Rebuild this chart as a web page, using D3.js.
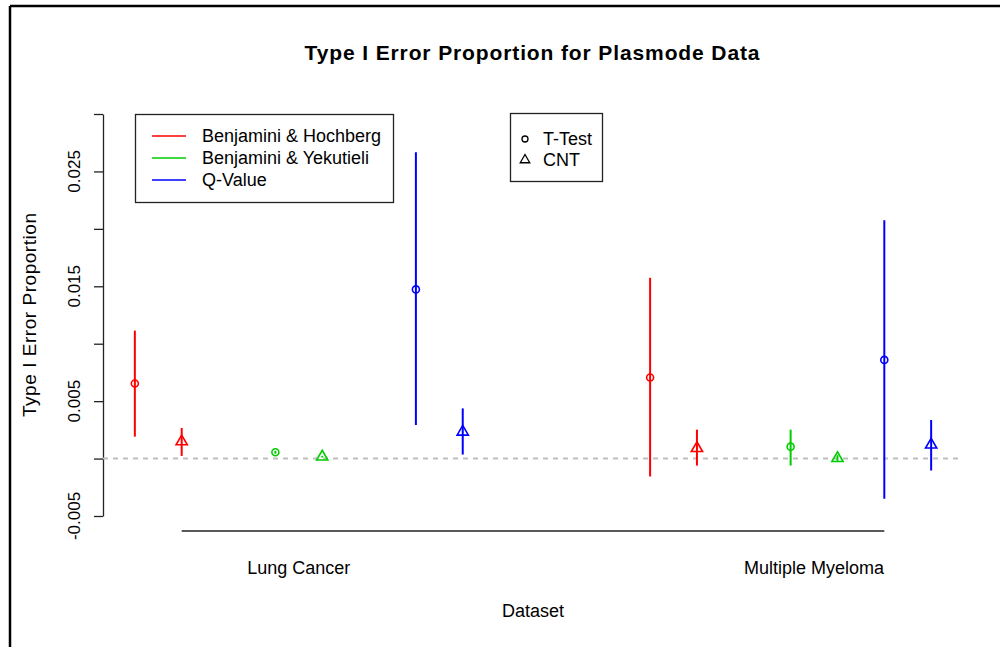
<!DOCTYPE html>
<html>
<head>
<meta charset="utf-8">
<script src="https://cdn.jsdelivr.net/npm/d3@7"></script>
<style>
  body { margin: 0; background: #fff; }
  text { font-family: "Liberation Sans", Arial, Helvetica, sans-serif; fill: #000; }
</style>
</head>
<body>
<svg id="chart" width="1000" height="647"></svg>
<script>
// ---- data ----
const datasets = ["Lung Cancer", "Multiple Myeloma"];
const methods = ["Benjamini & Hochberg", "Benjamini & Yekutieli", "Q-Value"];
const tests = ["T-Test", "CNT"];
const methodColors = ["#ff0000", "#00cd00", "#0000ff"];

// x slot of each estimate, ordered BH T-Test, BH CNT, BY T-Test, BY CNT, Q T-Test, Q CNT
const lungSlots    = [0, 1, 3, 4, 6, 7];
const myelomaSlots = [11, 12, 14, 15, 16, 17];

// estimated Type I error proportion with lower / upper interval limits
const lungEst    = [0.00654, 0.00148, 0.00055, 0.00016, 0.01473, 0.00232];
const lungLow    = [0.00191, 0.00023, 0.00042, 0.00010, 0.00292, 0.00035];
const lungHigh   = [0.01114, 0.00266, 0.00068, 0.00024, 0.02668, 0.00437];
const myelomaEst  = [0.00706, 0.00090, 0.00104, 0.00003, 0.00859, 0.00120];
const myelomaLow  = [-0.00156, -0.00061, -0.00061, -0.00020, -0.00350, -0.00104];
const myelomaHigh = [0.01574, 0.00252, 0.00252, 0.00030, 0.02075, 0.00336];

// axis settings
const yTicks = [-0.005, 0, 0.005, 0.01, 0.015, 0.02, 0.025, 0.03];
const yTickLabels = ["-0.005", "", "0.005", "", "0.015", "", "0.025", ""];
const datasetLabelSlots = [3.5, 14.5];
const datasetAxisSlots = [1, 16];

const titleText = "Type I Error Proportion for Plasmode Data";
const xTitle = "Dataset";
const yTitle = "Type I Error Proportion";

// ---- assemble rows ----
const rows = [];
[[lungSlots, lungEst, lungLow, lungHigh], [myelomaSlots, myelomaEst, myelomaLow, myelomaHigh]]
  .forEach(([slots, est, lo, hi], d) => {
    slots.forEach((s, i) => rows.push({
      dataset: datasets[d], method: Math.floor(i / 2), test: i % 2,
      slot: s, est: est[i], lo: lo[i], hi: hi[i]
    }));
  });

// ---- chart ----
const svg = d3.select("#chart");
const x = d3.scaleLinear().domain([-0.68, 17.68]).range([103, 963]);
const y = d3.scaleLinear().domain([-0.005, 0.03]).range([516, 114]);

svg.append("rect").attr("width", 1000).attr("height", 647).attr("fill", "#fff");

// frame edges
svg.append("line").attr("x1", 10).attr("x2", 1000).attr("y1", 6).attr("y2", 6)
  .attr("stroke", "#000").attr("stroke-width", 2.5);
svg.append("line").attr("x1", 10).attr("x2", 10).attr("y1", 6).attr("y2", 647)
  .attr("stroke", "#000").attr("stroke-width", 2.5);

// title
svg.append("text").attr("x", 532).attr("y", 60).attr("text-anchor", "middle")
  .attr("font-weight", "bold").attr("font-size", 21)
  .attr("textLength", 455).attr("lengthAdjust", "spacing").text(titleText);

// y axis
const yAxis = d3.axisLeft(y).tickValues(yTicks).tickSize(9).tickSizeOuter(0)
  .tickFormat((d, i) => yTickLabels[i]);
const gy = svg.append("g").attr("transform", "translate(103,0)").call(yAxis);
gy.select(".domain").attr("stroke", "#222").attr("stroke-width", 1.3);
gy.selectAll(".tick line").attr("stroke", "#222").attr("stroke-width", 1.3);
gy.selectAll(".tick text").remove();
svg.append("g").selectAll("text").data(yTicks).join("text")
  .attr("transform", d => `translate(80,${y(d)}) rotate(-90)`)
  .attr("text-anchor", "middle").attr("font-size", 17)
  .text((d, i) => yTickLabels[i]);

svg.append("text").attr("transform", `translate(36,${(y(0.03) + y(-0.005)) / 2 + 0}) rotate(-90)`)
  .attr("text-anchor", "middle").attr("font-size", 19)
  .attr("textLength", 204).attr("lengthAdjust", "spacing").text(yTitle);

// reference line at zero
svg.append("line").attr("x1", x.range()[0]).attr("x2", x.range()[1])
  .attr("y1", y(0)).attr("y2", y(0))
  .attr("stroke", "#bebebe").attr("stroke-width", 2).attr("stroke-dasharray", "5,5");

// x axis
svg.append("line").attr("x1", x(datasetAxisSlots[0])).attr("x2", x(datasetAxisSlots[1]))
  .attr("y1", 531).attr("y2", 531).attr("stroke", "#222").attr("stroke-width", 1.5);
svg.append("g").selectAll("text").data(datasets).join("text")
  .attr("x", (d, i) => x(datasetLabelSlots[i])).attr("y", 574)
  .attr("text-anchor", "middle").attr("font-size", 18).text(d => d);
svg.append("text").attr("x", 533).attr("y", 617).attr("text-anchor", "middle")
  .attr("font-size", 18).text(xTitle);

// interval bars
const marks = svg.append("g");
marks.selectAll("line.bar").data(rows).join("line").attr("class", "bar")
  .attr("x1", d => x(d.slot)).attr("x2", d => x(d.slot))
  .attr("y1", d => y(d.lo)).attr("y2", d => y(d.hi))
  .attr("stroke", d => methodColors[d.method]).attr("stroke-width", 2);

// point symbols: circle for T-Test, triangle for CNT
const triR = 6.5;
const triangle = r => `M0,${-r}L${r * Math.sqrt(3) / 2},${r / 2}L${-r * Math.sqrt(3) / 2},${r / 2}Z`;
marks.selectAll("path.pt").data(rows.filter(d => d.test === 1)).join("path").attr("class", "pt")
  .attr("transform", d => `translate(${x(d.slot)},${y(d.est)})`)
  .attr("d", triangle(triR))
  .attr("fill", "none").attr("stroke", d => methodColors[d.method]).attr("stroke-width", 1.6);
marks.selectAll("circle.pt").data(rows.filter(d => d.test === 0)).join("circle").attr("class", "pt")
  .attr("cx", d => x(d.slot)).attr("cy", d => y(d.est)).attr("r", 3.5)
  .attr("fill", "none").attr("stroke", d => methodColors[d.method]).attr("stroke-width", 1.6);

// method legend
const leg1 = svg.append("g");
leg1.append("rect").attr("x", 135.5).attr("y", 114.5).attr("width", 258).attr("height", 88)
  .attr("fill", "none").attr("stroke", "#222").attr("stroke-width", 1.3);
methods.forEach((m, i) => {
  const ly = 136 + i * 22;
  leg1.append("line").attr("x1", 152).attr("x2", 186).attr("y1", ly).attr("y2", ly)
    .attr("stroke", methodColors[i]).attr("stroke-width", 1.5);
  leg1.append("text").attr("x", 202).attr("y", ly).attr("dy", "0.36em")
    .attr("font-size", 18).text(m);
});

// test legend
const leg2 = svg.append("g");
leg2.append("rect").attr("x", 510.5).attr("y", 113.5).attr("width", 92).attr("height", 68)
  .attr("fill", "none").attr("stroke", "#222").attr("stroke-width", 1.3);
tests.forEach((t, i) => {
  const ly = 139 + i * 21;
  if (i === 0) {
    leg2.append("circle").attr("cx", 525).attr("cy", ly).attr("r", 3)
      .attr("fill", "none").attr("stroke", "#000").attr("stroke-width", 1.3);
  } else {
    leg2.append("path").attr("transform", `translate(525,${ly})`).attr("d", triangle(5.5))
      .attr("fill", "none").attr("stroke", "#000").attr("stroke-width", 1.3);
  }
  leg2.append("text").attr("x", 543).attr("y", ly).attr("dy", "0.36em")
    .attr("font-size", 18).text(t);
});
</script>
</body>
</html>
